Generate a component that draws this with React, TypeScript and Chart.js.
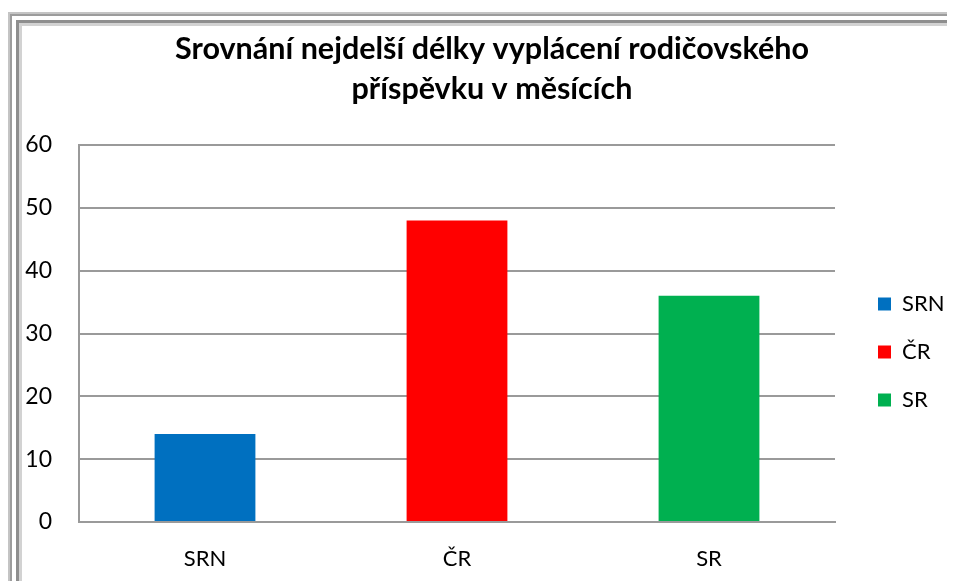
import React, { useEffect, useRef } from "react";
import { Chart, registerables } from "chart.js";

Chart.register(...registerables);

const categories = ["SRN", "ČR", "SR"];
const values = [14, 48, 36];
const barColors = ["#0070C0", "#FF0000", "#00B050"];
const titleLines = ["Srovnání nejdelší délky vyplácení rodičovského", "příspěvku v měsících"];
const yMin = 0;
const yMax = 60;
const yStep = 10;

const FONT = "Lato";
const GRID = "#9a9a9a";

export default function App() {
  const ref = useRef<HTMLCanvasElement | null>(null);

  useEffect(() => {
    if (!ref.current) return;
    const chart = new Chart(ref.current, {
      type: "bar",
      data: {
        labels: categories,
        datasets: [
          {
            label: "Délka",
            data: values,
            backgroundColor: barColors,
            borderWidth: 0,
            barPercentage: 0.4,
            categoryPercentage: 1,
          },
        ],
      },
      options: {
        responsive: false,
        animation: false,
        layout: { padding: 0 },
        plugins: {
          tooltip: { enabled: false },
          title: {
            display: true,
            text: titleLines,
            color: "#000",
            font: { family: FONT, size: 30.5, weight: "bold", lineHeight: "40px" },
            padding: { top: 21, bottom: 36 },
          },
          legend: {
            position: "right",
            fullSize: false,
            maxWidth: 95,
            title: { display: true, text: "", padding: { top: 27, bottom: 0 }, font: { size: 10, lineHeight: 1 } },
            labels: {
              boxWidth: 13,
              boxHeight: 13,
              padding: 26,
              color: "#000",
              font: { family: FONT, size: 22 },
              generateLabels: (c: any) =>
                (c.data.labels as string[]).map((t, i) => ({
                  text: t,
                  fillStyle: barColors[i],
                  strokeStyle: barColors[i],
                  fontColor: "#000",
                  lineWidth: 0,
                  hidden: false,
                  index: i,
                  datasetIndex: 0,
                })),
            },
          },
        },
        scales: {
          x: {
            grid: { display: false },
            border: { display: true, color: GRID, width: 2 },
            ticks: { color: "#000", padding: 16, font: { family: FONT, size: 22 } },
            afterFit: (s: any) => {
              s.height = 59;
            },
          },
          y: {
            min: yMin,
            max: yMax,
            ticks: { stepSize: yStep, color: "#000", padding: 27, font: { family: FONT, size: 23 } },
            grid: { color: GRID, lineWidth: 2, drawTicks: false },
            border: { display: true, color: GRID, width: 2 },
            afterFit: (s: any) => {
              s.width = 71;
            },
          },
          gapRight: {
            type: "linear",
            position: "right",
            display: true,
            grid: { display: false, drawTicks: false },
            ticks: { display: false },
            border: { display: false },
            afterFit: (s: any) => {
              s.width = 17;
            },
          },
          outerRight: {
            type: "linear",
            position: "right",
            weight: 2000,
            display: true,
            grid: { display: false, drawTicks: false },
            ticks: { display: false },
            border: { display: false },
            afterFit: (s: any) => {
              s.width = 29;
            },
          },
        },
      },
    });
    return () => chart.destroy();
  }, []);

  return (
    <div style={{ position: "relative", width: 947, height: 573, overflow: "hidden", background: "#fff" }}>
      <div
        style={{
          position: "absolute",
          left: 0,
          top: 4,
          width: 1200,
          height: 1200,
          borderLeft: "2px solid #c4c4c4",
          borderTop: "2px solid #c4c4c4",
        }}
      >
        <div style={{ borderLeft: "2px solid #9c9c9c", borderTop: "2px solid #9c9c9c", width: "100%", height: "100%" }}>
          <div style={{ paddingLeft: 4, paddingTop: 4, width: "100%", height: "100%" }}>
            <div style={{ borderLeft: "3px solid #8e8e8e", borderTop: "3px solid #8e8e8e", width: "100%", height: "100%" }}>
              <div style={{ borderLeft: "3px solid #d2d2d2", borderTop: "3px solid #d2d2d2", width: "100%", height: "100%" }} />
            </div>
          </div>
        </div>
      </div>
      <canvas ref={ref} width={968} height={573} style={{ position: "absolute", left: 0, top: 0, width: 968, height: 573 }} />
    </div>
  );
}
